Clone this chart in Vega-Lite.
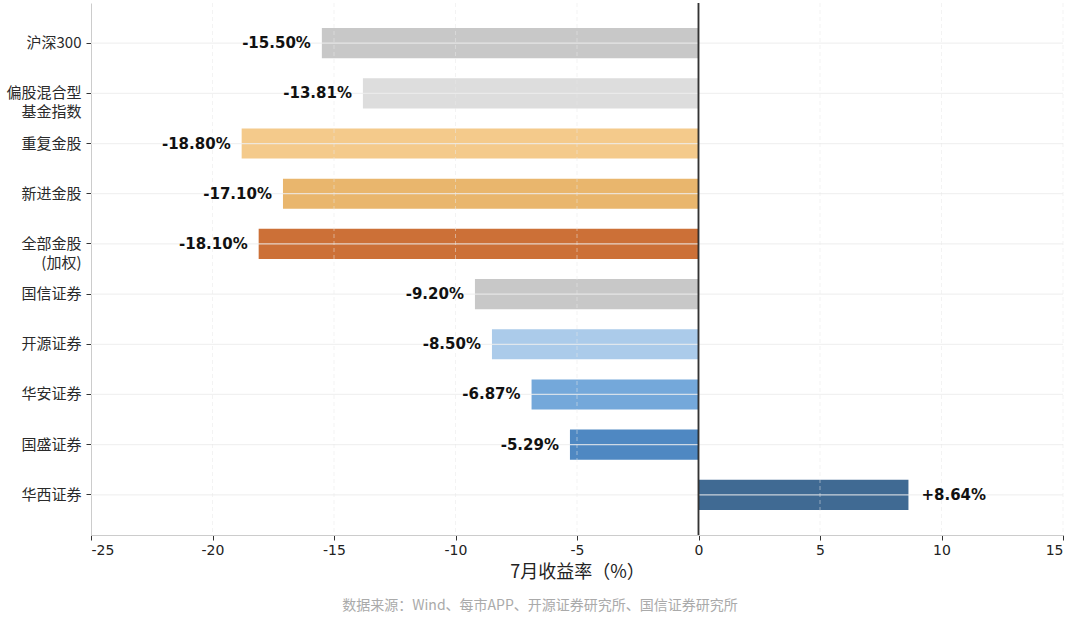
{
  "$schema": "https://vega.github.io/schema/vega-lite/v6.json",
  "width": 972,
  "height": 532,
  "autosize": {"type": "none"},
  "padding": {"left": 91, "top": 3, "right": 17, "bottom": 91},
  "background": "white",
  "title": {
    "text": "数据来源：Wind、每市APP、开源证券研究所、国信证券研究所",
    "orient": "bottom",
    "anchor": "middle",
    "dx": -37,
    "offset": 18,
    "font": "Noto Sans CJK SC",
    "fontSize": 14,
    "fontWeight": "normal",
    "color": "#aaaaaa"
  },
  "datasets": {
    "returns": [
      {"name": "沪深300", "value": -15.50, "label": "-15.50%"},
      {"name": "偏股混合型\n基金指数", "value": -13.81, "label": "-13.81%"},
      {"name": "重复金股", "value": -18.80, "label": "-18.80%"},
      {"name": "新进金股", "value": -17.10, "label": "-17.10%"},
      {"name": "全部金股\n(加权)", "value": -18.10, "label": "-18.10%"},
      {"name": "国信证券", "value": -9.20, "label": "-9.20%"},
      {"name": "开源证券", "value": -8.50, "label": "-8.50%"},
      {"name": "华安证券", "value": -6.87, "label": "-6.87%"},
      {"name": "国盛证券", "value": -5.29, "label": "-5.29%"},
      {"name": "华西证券", "value": 8.64, "label": "+8.64%"}
    ],
    "xgrid": [
      {"g": -20}, {"g": -15}, {"g": -10}, {"g": -5}, {"g": 5}, {"g": 10}, {"g": 15}
    ]
  },
  "data": {"name": "returns"},
  "layer": [
    {
      "mark": {"type": "bar"},
      "encoding": {
        "y": {
          "field": "name",
          "type": "nominal",
          "sort": null,
          "scale": {"paddingInner": 0.4, "paddingOuter": 0.5},
          "axis": {
            "title": null,
            "labelExpr": "split(datum.label, '\\n')",
            "labelFont": "Noto Sans CJK SC",
            "labelFontSize": 15,
            "labelColor": "#2a2a2a",
            "labelLineHeight": 19,
            "tickColor": "#333333",
            "tickSize": 5,
            "labelPadding": 5,
            "domainColor": "#cccccc",
            "grid": false
          }
        },
        "x": {
          "field": "value",
          "type": "quantitative",
          "scale": {"domain": [-25, 15], "nice": false},
          "axis": {
            "values": [-25, -20, -15, -10, -5, 0, 5, 10, 15],
            "labelExpr": "'' + datum.value",
            "title": "7月收益率（%）",
            "titleFont": "Noto Sans CJK SC",
            "titleFontSize": 18,
            "titleFontWeight": "normal",
            "titleColor": "#222222",
            "titlePadding": 6,
            "labelFont": "DejaVu Sans",
            "labelFontSize": 14,
            "labelColor": "#222222",
            "labelPadding": 3,
            "tickColor": "#333333",
            "tickSize": 5,
            "domainColor": "#cccccc",
            "grid": false
          }
        },
        "x2": {"datum": 0},
        "color": {
          "field": "name",
          "type": "nominal",
          "legend": null,
          "scale": {
            "domain": ["沪深300", "偏股混合型\n基金指数", "重复金股", "新进金股", "全部金股\n(加权)", "国信证券", "开源证券", "华安证券", "国盛证券", "华西证券"],
            "range": ["#c8c8c8", "#dddddd", "#f4ca8b", "#e9b66d", "#cc7037", "#c8c8c8", "#abcbea", "#74a8da", "#4f88c2", "#406a93"]
          }
        }
      }
    },
    {
      "mark": {"type": "rule", "color": "#eeeeee", "strokeWidth": 1.2, "opacity": 0.8},
      "encoding": {
        "y": {"field": "name", "type": "nominal", "sort": null}
      }
    },
    {
      "data": {"name": "xgrid"},
      "mark": {"type": "rule", "color": "#e8e8e8", "strokeWidth": 1, "strokeDash": [4, 3], "opacity": 0.5},
      "encoding": {
        "x": {"field": "g", "type": "quantitative"}
      }
    },
    {
      "mark": {"type": "rule", "color": "#333333", "strokeWidth": 1.1},
      "encoding": {"x": {"datum": 0}}
    },
    {
      "transform": [{"filter": "datum.value < 0"}],
      "mark": {"type": "text", "align": "right", "baseline": "middle", "dx": -11, "font": "DejaVu Sans", "fontSize": 15, "fontWeight": "bold", "color": "#111111"},
      "encoding": {
        "y": {"field": "name", "type": "nominal", "sort": null},
        "x": {"field": "value", "type": "quantitative"},
        "text": {"field": "label"}
      }
    },
    {
      "transform": [{"filter": "datum.value >= 0"}],
      "mark": {"type": "text", "align": "left", "baseline": "middle", "dx": 13, "font": "DejaVu Sans", "fontSize": 15, "fontWeight": "bold", "color": "#111111"},
      "encoding": {
        "y": {"field": "name", "type": "nominal", "sort": null},
        "x": {"field": "value", "type": "quantitative"},
        "text": {"field": "label"}
      }
    }
  ],
  "config": {
    "view": {"stroke": null}
  }
}
